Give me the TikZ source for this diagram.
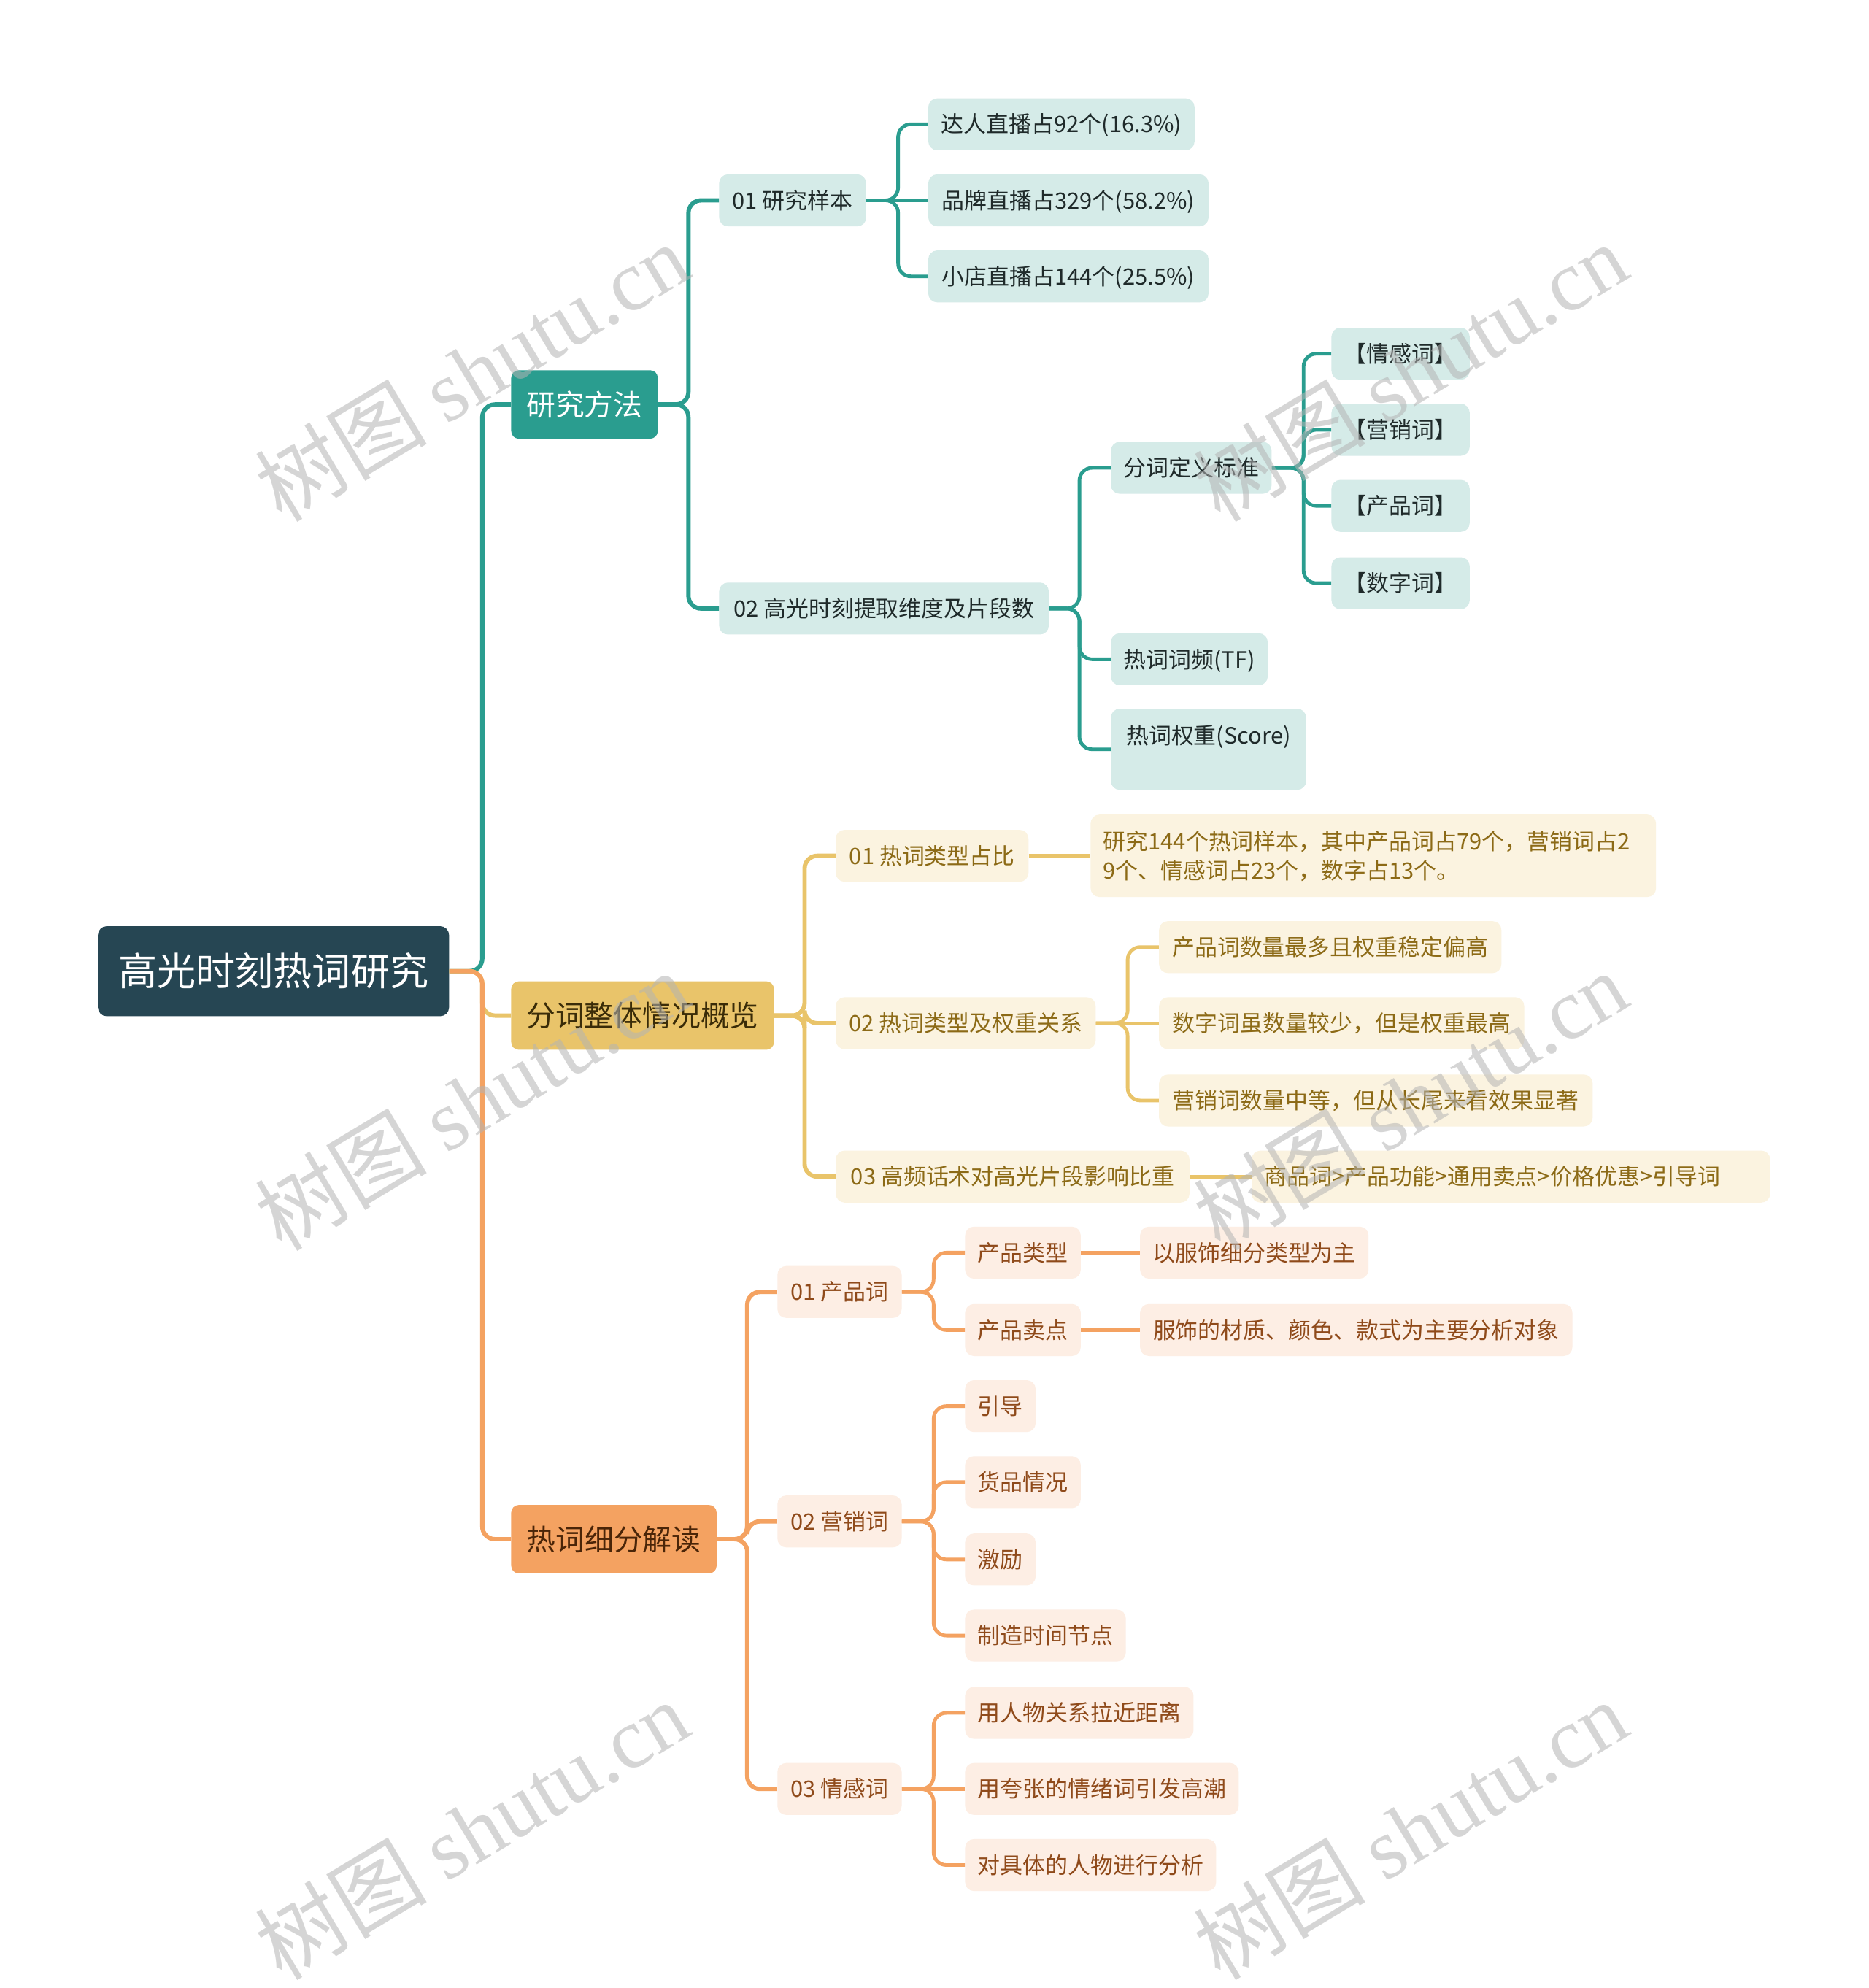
\documentclass[tikz,border=0pt]{standalone}
\usepackage{fontspec}
\newfontfamily\cjk{Noto Sans CJK SC}
\newfontfamily\wmlatin{Liberation Serif}
\usetikzlibrary{positioning}
\definecolor{rootfill}{HTML}{264653}
\definecolor{tealmain}{HTML}{2A9D8F}
\definecolor{tealsoft}{HTML}{D5EBE8}
\definecolor{tealtext}{HTML}{1F2A2A}
\definecolor{goldmain}{HTML}{E9C46A}
\definecolor{goldsoft}{HTML}{FBF3E0}
\definecolor{goldtext}{HTML}{8C6A16}
\definecolor{goldhead}{HTML}{3A2C08}
\definecolor{orangemain}{HTML}{F4A261}
\definecolor{orangesoft}{HTML}{FDEEE4}
\definecolor{orangetext}{HTML}{8F4A1A}
\definecolor{orangehead}{HTML}{4A2508}
\definecolor{markgray}{HTML}{B4B4B4}

\begin{document}
\begin{tikzpicture}[x=1pt, y=-1pt,
        every node/.style = {
            anchor=west, rounded corners=7pt, inner xsep=10pt, inner ysep=0pt,
            minimum height=41pt, text height=15.6pt, text depth=2.2pt,
            font=\cjk\fontsize{17.8}{23}\selectfont
        },
        rootbox/.style = {fill=rootfill, text=white, minimum height=71pt, inner xsep=16pt,
            text height=27pt, text depth=3.7pt, font=\cjk\fontsize{30.6}{36}\selectfont},
        headbox/.style = {minimum height=54pt, inner xsep=12pt, rounded corners=6pt,
            text height=20.2pt, text depth=2.8pt, font=\cjk\fontsize{22.9}{28}\selectfont},
        tealbox/.style = {fill=tealsoft, text=tealtext},
        goldbox/.style = {fill=goldsoft, text=goldtext},
        orangebox/.style = {fill=orangesoft, text=orangetext},
        link/.style = {line width=2.8pt, rounded corners=10pt},
        mainlink/.style = {line width=3.4pt, rounded corners=10pt},
        watermark/.style = {anchor=center, rotate=31, text=markgray, opacity=0.55,
            inner sep=0pt, minimum height=0pt, text height={}, text depth={},
            font=\cjk\fontsize{68}{68}\selectfont}
        ]
        \fill[white] (0,0) rectangle (1474,1568);
        \useasboundingbox (0,0) rectangle (1474,1568);

        \node[rootbox, minimum width=277pt] (root) at (77,766) {高光时刻热词研究};

        \node[headbox, fill=tealmain, text=white, minimum width=115pt] (method) at (403,319) {研究方法};
        \node[headbox, fill=goldmain, text=goldhead, minimum width=207pt] (overview) at (403,801) {分词整体情况概览};
        \node[headbox, fill=orangemain, text=orangehead, minimum width=162pt] (detail) at (403,1214) {热词细分解读};

        \node[tealbox, minimum width=116pt] (sample) at (567,158) {01 研究样本};
        \node[tealbox, minimum width=210pt] (kol) at (732,98) {达人直播占92个(16.3\%)};
        \node[tealbox, minimum width=221pt] (brand) at (732,158) {品牌直播占329个(58.2\%)};
        \node[tealbox, minimum width=221pt] (shop) at (732,218) {小店直播占144个(25.5\%)};
        \node[tealbox, minimum width=260pt] (dims) at (567,480) {02 高光时刻提取维度及片段数};
        \node[tealbox, minimum width=125pt] (rule) at (876,369) {分词定义标准};
        \node[tealbox, minimum width=108pt] (emo) at (1050,279) {【情感词】};
        \node[tealbox, minimum width=108pt] (mkt) at (1050,339) {【营销词】};
        \node[tealbox, minimum width=108pt] (prod) at (1050,399) {【产品词】};
        \node[tealbox, minimum width=108pt] (num) at (1050,460) {【数字词】};
        \node[tealbox, minimum width=121pt] (tf) at (876,520) {热词词频(TF)};
        \node[tealbox, minimum width=154pt, minimum height=64pt, text height=21pt, text depth=29pt] (score) at (876,591) {热词权重(Score)};

        \node[goldbox, minimum width=152pt] (ratio) at (659,675) {01 热词类型占比};
        \node[goldbox, minimum height=65pt, text width=426pt, align=left, text height={}, text depth={}] (ratiotxt) at (860,675) {研究144个热词样本，其中产品词占79个，营销词占2\\9个、情感词占23个，数字占13个。};
        \node[goldbox, minimum width=205pt] (relation) at (659,807) {02 热词类型及权重关系};
        \node[goldbox, minimum width=270pt] (rel1) at (914,747) {产品词数量最多且权重稳定偏高};
        \node[goldbox, minimum width=288pt] (rel2) at (914,807) {数字词虽数量较少，但是权重最高};
        \node[goldbox, minimum width=342pt] (rel3) at (914,868) {营销词数量中等，但从长尾来看效果显著};
        \node[goldbox, minimum width=279pt] (impact) at (659,928) {03 高频话术对高光片段影响比重};
        \node[goldbox, text width=389pt, align=left] (order) at (987,928) {商品词>产品功能>通用卖点>价格优惠>引导词};

        \node[orangebox, minimum width=98pt] (pw) at (613,1019) {01 产品词};
        \node[orangebox, minimum width=89pt] (ptype) at (761,988) {产品类型};
        \node[orangebox, minimum width=179pt] (ptypetxt) at (899,988) {以服饰细分类型为主};
        \node[orangebox, minimum width=89pt] (psell) at (761,1049) {产品卖点};
        \node[orangebox, minimum width=341pt] (pselltxt) at (899,1049) {服饰的材质、颜色、款式为主要分析对象};
        \node[orangebox, minimum width=98pt] (mw) at (613,1200) {02 营销词};
        \node[orangebox, minimum width=53pt] (guide) at (761,1109) {引导};
        \node[orangebox, minimum width=89pt] (stock) at (761,1169) {货品情况};
        \node[orangebox, minimum width=53pt] (spur) at (761,1230) {激励};
        \node[orangebox, minimum width=124pt] (timing) at (761,1290) {制造时间节点};
        \node[orangebox, minimum width=98pt] (ew) at (613,1411) {03 情感词};
        \node[orangebox, minimum width=179pt] (bond) at (761,1351) {用人物关系拉近距离};
        \node[orangebox, minimum width=214pt] (hype) at (761,1411) {用夸张的情绪词引发高潮};
        \node[orangebox, minimum width=197pt] (person) at (761,1471) {对具体的人物进行分析};

        \draw[mainlink, tealmain] (root.east) -- ++(26,0) |- (method.west);
        \draw[mainlink, goldmain] (root.east) -- ++(26,0) |- (overview.west);
        \draw[mainlink, orangemain] (root.east) -- ++(26,0) |- (detail.west);

        \draw[mainlink, tealmain] (method.east) -- ++(24,0) |- (sample.west);
        \draw[mainlink, tealmain] (method.east) -- ++(24,0) |- (dims.west);
        \draw[link, tealmain] (sample.east) -- ++(25,0) |- (kol.west);
        \draw[link, tealmain] (sample.east) -- (brand.west);
        \draw[link, tealmain] (sample.east) -- ++(25,0) |- (shop.west);
        \draw[link, tealmain] (dims.east) -- ++(24,0) |- (rule.west);
        \draw[link, tealmain] (dims.east) -- ++(24,0) |- (tf.west);
        \draw[link, tealmain] (dims.east) -- ++(24,0) |- (score.west);
        \draw[link, tealmain] (rule.east) -- ++(25,0) |- (emo.west);
        \draw[link, tealmain] (rule.east) -- ++(25,0) |- (mkt.west);
        \draw[link, tealmain] (rule.east) -- ++(25,0) |- (prod.west);
        \draw[link, tealmain] (rule.east) -- ++(25,0) |- (num.west);

        \draw[mainlink, goldmain] (overview.east) -- ++(24,0) |- (ratio.west);
        \draw[mainlink, goldmain] (overview.east) -- ++(24,0) |- (relation.west);
        \draw[mainlink, goldmain] (overview.east) -- ++(24,0) |- (impact.west);
        \draw[link, goldmain] (ratio.east) -- (ratiotxt.west);
        \draw[link, goldmain] (relation.east) -- ++(25,0) |- (rel1.west);
        \draw[link, goldmain] (relation.east) -- (rel2.west);
        \draw[link, goldmain] (relation.east) -- ++(25,0) |- (rel3.west);
        \draw[link, goldmain] (impact.east) -- (order.west);

        \draw[mainlink, orangemain] (detail.east) -- ++(24,0) |- (pw.west);
        \draw[mainlink, orangemain] (detail.east) -- ++(24,0) |- (mw.west);
        \draw[mainlink, orangemain] (detail.east) -- ++(24,0) |- (ew.west);
        \draw[link, orangemain] (pw.east) -- ++(25,0) |- (ptype.west);
        \draw[link, orangemain] (pw.east) -- ++(25,0) |- (psell.west);
        \draw[link, orangemain] (ptype.east) -- (ptypetxt.west);
        \draw[link, orangemain] (psell.east) -- (pselltxt.west);
        \draw[link, orangemain] (mw.east) -- ++(25,0) |- (guide.west);
        \draw[link, orangemain] (mw.east) -- ++(25,0) |- (stock.west);
        \draw[link, orangemain] (mw.east) -- ++(25,0) |- (spur.west);
        \draw[link, orangemain] (mw.east) -- ++(25,0) |- (timing.west);
        \draw[link, orangemain] (ew.east) -- ++(25,0) |- (bond.west);
        \draw[link, orangemain] (ew.east) -- (hype.west);
        \draw[link, orangemain] (ew.east) -- ++(25,0) |- (person.west);

        \node[watermark] (mark1) at (372,293) {树图 {\wmlatin shutu.cn}};
        \node[watermark] (mark2) at (1112,293) {树图 {\wmlatin shutu.cn}};
        \node[watermark] (mark3) at (372,868) {树图 {\wmlatin shutu.cn}};
        \node[watermark] (mark4) at (1112,868) {树图 {\wmlatin shutu.cn}};
        \node[watermark] (mark5) at (372,1443) {树图 {\wmlatin shutu.cn}};
        \node[watermark] (mark6) at (1112,1443) {树图 {\wmlatin shutu.cn}};
    \end{tikzpicture}
\end{document}
